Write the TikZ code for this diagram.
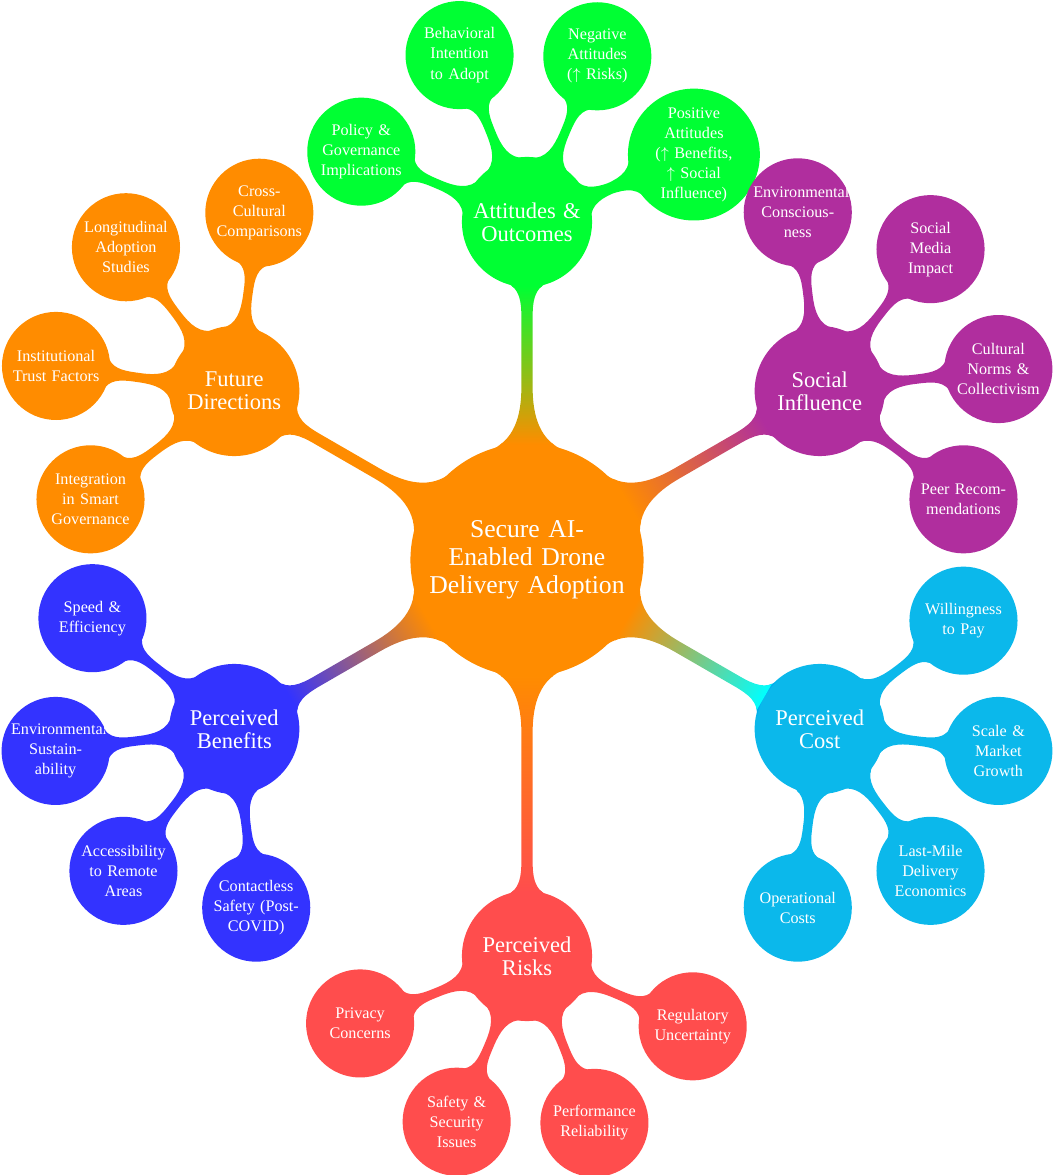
\documentclass[tikz,border=0pt]{standalone}
\usepackage{fontspec}
\setmainfont{Liberation Serif}
\usetikzlibrary{mindmap}
\definecolor{rootorange}{HTML}{FF8C00}
\definecolor{attgreen}{HTML}{00FF33}
\definecolor{socpurple}{HTML}{B02E9E}
\definecolor{costblue}{HTML}{0BB8EB}
\definecolor{riskred}{HTML}{FF4D4D}
\definecolor{benblue}{HTML}{3333FF}

\begin{document}
\begin{tikzpicture}[mindmap, concept color=rootorange, text=white,
    every node/.style={concept, inner sep=0pt, align=center},
    rootnode/.style={minimum size=4.62cm, text width=4.05cm, font=\fontsize{14.6}{15.9}\selectfont},
    topicnode/.style={minimum size=2.56cm, text width=2.2cm, font=\fontsize{12.8}{13.3}\selectfont},
    itemnode/.style={minimum size=2.12cm, text width=1.78cm, font=\fontsize{9.2}{11.4}\selectfont},
    level 1/.append style={level distance=6.76cm},
    level 2/.append style={level distance=3.6cm}]
  \useasboundingbox (-10.54,-12.3) rectangle (10.5,11.2);
  \path node[rootnode] (root) {Secure AI-Enabled Drone Delivery Adoption}
    child[grow=90, concept color=attgreen] { node[topicnode] (att) {Attitudes \& Outcomes}
      child[grow=157.5] { node[itemnode] (att1) {Policy \& Governance Implications} }
      child[grow=112.5] { node[itemnode] (att2) {Behavioral Intention to Adopt} }
      child[grow=67.5] { node[itemnode] (att3) {Negative Attitudes ($\uparrow$ Risks)} }
      child[grow=22.5] { node[itemnode] (att4) {Positive Attitudes ($\uparrow$ Benefits, $\uparrow$ Social Influence)} }
    }
    child[grow=30, concept color=socpurple] { node[topicnode] (soc) {Social Influence}
      child[grow=97.5] { node[itemnode] (soc1) {Environmental Conscious\-ness} }
      child[grow=52.5] { node[itemnode] (soc2) {Social\\Media\\Impact} }
      child[grow=7.5] { node[itemnode] (soc3) {Cultural Norms \& Collectivism} }
      child[grow=-37.5] { node[itemnode] (soc4) {Peer Recommendations} }
    }
    child[grow=-30, concept color=cyan] { node[topicnode, fill=costblue, draw=costblue] (cost) {Perceived Cost}
      child[grow=37.5, concept color=costblue, concept color=costblue] { node[itemnode] (cost1) {Willingness to Pay} }
      child[grow=-7.5, concept color=costblue, concept color=costblue] { node[itemnode] (cost2) {Scale \& Market Growth} }
      child[grow=-52.5, concept color=costblue, concept color=costblue] { node[itemnode] (cost3) {Last-Mile Delivery Economics} }
      child[grow=-97.5, concept color=costblue, concept color=costblue] { node[itemnode] (cost4) {Operational Costs} }
    }
    child[grow=-90, level distance=7.92cm, concept color=riskred] { node[topicnode] (risk) {Perceived Risks}
      child[grow=202.5] { node[itemnode] (risk1) {Privacy Concerns} }
      child[grow=247.5] { node[itemnode] (risk2) {Safety \& Security Issues} }
      child[grow=292.5] { node[itemnode] (risk3) {Performance Reliability} }
      child[grow=337.5] { node[itemnode] (risk4) {Regulatory Uncertainty} }
    }
    child[grow=210, concept color=benblue] { node[topicnode] (ben) {Perceived Benefits}
      child[grow=142.5] { node[itemnode] (ben1) {Speed \& Efficiency} }
      child[grow=187.5] { node[itemnode] (ben2) {Environmental Sustain-\\ability} }
      child[grow=232.5] { node[itemnode] (ben3) {Accessibility to Remote Areas} }
      child[grow=277.5] { node[itemnode] (ben4) {Contactless Safety (Post-COVID)} }
    }
    child[grow=150] { node[topicnode] (fut) {Future Directions}
      child[grow=82.5] { node[itemnode] (fut1) {Cross-Cultural Comparisons} }
      child[grow=127.5] { node[itemnode] (fut2) {Longitudinal Adoption Studies} }
      child[grow=172.5] { node[itemnode] (fut3) {Institutional Trust Factors} }
      child[grow=217.5] { node[itemnode] (fut4) {Integration in Smart Governance} }
    };
\end{tikzpicture}
\end{document}
